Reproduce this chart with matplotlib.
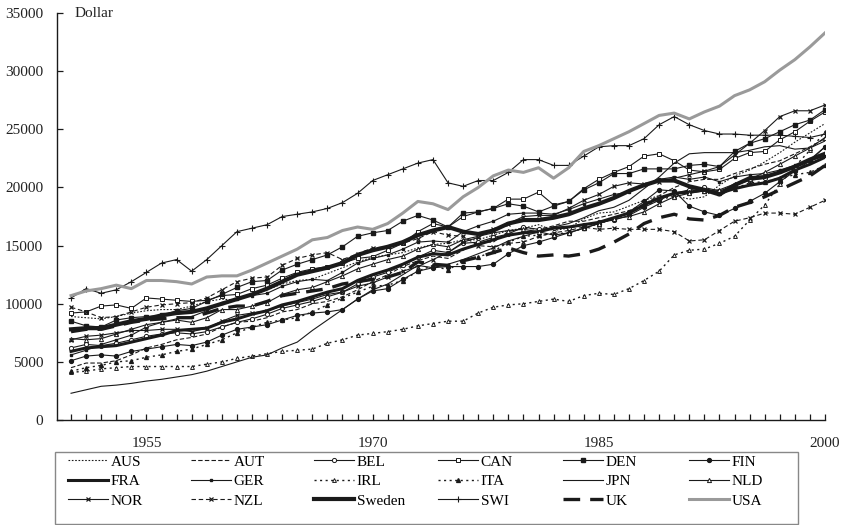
import numpy as np
from matplotlib import pyplot as plt
from matplotlib import rcParams
from matplotlib.patches import Rectangle

rcParams['font.family'] = ['Liberation Serif', 'DejaVu Serif']
rcParams['font.size'] = 11

years = list(range(1950, 2001))

AUS = [8900, 8800, 8700, 8900, 9200, 9400, 9500, 9500, 9800, 10200,
       10400, 10300, 10800, 11200, 11700, 12000, 12100, 12600, 13100, 13600,
       14000, 14200, 14400, 14800, 15100, 15200, 15500, 15500, 15900, 16300,
       16500, 16800, 16300, 16500, 17300, 17800, 17900, 18400, 18900, 19300,
       19300, 19000, 19200, 20200, 21000, 21500, 22200, 23000, 23900, 24700, 25500]
AUT = [4500, 4900, 4900, 5100, 5600, 6200, 6500, 6900, 7100, 7400,
       8000, 8400, 8500, 8800, 9300, 9500, 10000, 10200, 10600, 11200,
       11900, 12500, 13200, 13700, 14100, 13900, 14600, 15300, 15300, 16200,
       16500, 16400, 16700, 17100, 17100, 17400, 17700, 18000, 18600, 19300,
       20000, 20500, 20700, 20700, 21200, 21600, 22000, 22300, 22900, 23500, 24200]
BEL = [6200, 6500, 6400, 6600, 6900, 7200, 7400, 7500, 7400, 7600,
       8000, 8400, 8700, 9100, 9600, 9900, 10200, 10600, 11000, 11700,
       12300, 12700, 13300, 14000, 14600, 14400, 15200, 15300, 15700, 16000,
       16600, 16400, 16500, 16500, 16800, 17000, 17200, 17600, 18300, 18900,
       19500, 19800, 20000, 19700, 20200, 20600, 20800, 21400, 21800, 22400, 23500]
CAN = [9200, 9300, 9800, 9900, 9600, 10500, 10400, 10300, 10200, 10300,
       10700, 10800, 11300, 11600, 12200, 12700, 13000, 13200, 13500, 13900,
       14050, 14600, 15200, 16200, 16900, 16600, 17500, 17900, 18200, 19000,
       19000, 19600, 18500, 18800, 19900, 20700, 21300, 21800, 22700, 22900,
       22300, 21500, 21350, 21550, 22500, 23000, 23100, 24100, 24800, 25700, 26500]
DEN = [8500, 8100, 8000, 8600, 8800, 8900, 9000, 9400, 9600, 10200,
       10800, 11400, 11900, 12000, 12900, 13400, 13800, 14200, 14900, 15800,
       16100, 16300, 17100, 17600, 17200, 16600, 17800, 17900, 18200, 18600,
       18400, 17900, 18400, 18800, 19800, 20400, 21200, 21200, 21600, 21600,
       21600, 21900, 22000, 21800, 23100, 23800, 24200, 24800, 25400, 25800, 26700]
FIN = [5100, 5500, 5600, 5500, 5900, 6100, 6300, 6500, 6400, 6700,
       7300, 7800, 8000, 8200, 8600, 9000, 9200, 9300, 9500, 10400,
       11100, 11300, 12100, 12800, 13100, 13200, 13200, 13200, 13400, 14300,
       15000, 15300, 15700, 16100, 16500, 16900, 17300, 17900, 18800, 19800,
       19700, 18400, 17900, 17600, 18200, 18800, 19500, 20500, 21400, 22300, 23500]
FRA = [5900, 6200, 6300, 6400, 6700, 7000, 7300, 7700, 7800, 7900,
       8400, 8700, 9100, 9400, 9900, 10200, 10600, 11000, 11300, 12000,
       12500, 12900, 13400, 14000, 14300, 14200, 14700, 15100, 15500, 15900,
       16100, 16200, 16500, 16600, 16800, 17000, 17400, 17800, 18500, 19100,
       19500, 19600, 19800, 19500, 19900, 20200, 20400, 20800, 21500, 22000, 22600]
GER = [5600, 6000, 6500, 6900, 7300, 8000, 8400, 8700, 8900, 9400,
       10100, 10400, 10700, 10900, 11500, 11900, 12100, 12000, 12700, 13500,
       13900, 14200, 14700, 15300, 15400, 15300, 16200, 16700, 17100, 17700,
       17800, 17800, 17700, 18100, 18600, 19000, 19400, 19600, 20200, 20700,
       20900, 20700, 20900, 20500, 20900, 21100, 21200, 21500, 21900, 22300, 22700]
IRL = [4100, 4200, 4400, 4500, 4600, 4600, 4600, 4600, 4600, 4800,
       5000, 5300, 5500, 5700, 5900, 6000, 6100, 6600, 6900, 7300,
       7450, 7600, 7800, 8100, 8300, 8500, 8500, 9200, 9700, 9900,
       10000, 10200, 10400, 10200, 10700, 10900, 10800, 11300, 12000, 12800,
       14200, 14600, 14700, 15200, 15800, 17200, 18500, 20300, 21800, 23200, 24800]
ITA = [4200, 4500, 4700, 5000, 5100, 5400, 5600, 5900, 6100, 6500,
       6900, 7500, 8000, 8400, 8600, 8800, 9300, 9900, 10500, 11000,
       11500, 11600, 12000, 12800, 13300, 12900, 13700, 14000, 14500, 15300,
       15800, 15900, 16000, 16100, 16500, 16900, 17300, 17800, 18400, 18900,
       19300, 19600, 19700, 19500, 19900, 20400, 20500, 20800, 21100, 21300, 21900]
JPN = [2300, 2600, 2900, 3000, 3150, 3350, 3500, 3700, 3900, 4200,
       4600, 5000, 5400, 5600, 6200, 6700, 7700, 8600, 9500, 10400,
       11200, 11700, 12500, 13300, 13100, 13400, 13800, 14300, 14800, 15400,
       15800, 16200, 16600, 16900, 17400, 18000, 18300, 18900, 19900, 20900,
       22100, 22900, 23000, 23000, 23000, 23200, 23500, 23600, 23300, 23400, 24000]
NLD = [7000, 6900, 7000, 7400, 7800, 8200, 8400, 8600, 8400, 8800,
       9500, 9500, 9800, 10100, 10800, 11200, 11400, 11900, 12400, 13000,
       13400, 13800, 14100, 14700, 15100, 14900, 15500, 15800, 16100, 16300,
       16400, 16200, 15900, 16100, 16500, 16900, 17300, 17500, 17900, 18600,
       19200, 19500, 19700, 19800, 20300, 20700, 21300, 22000, 22700, 23400, 24300]
NOR = [6900, 7200, 7300, 7500, 7700, 7700, 7800, 7800, 7600, 7900,
       8500, 9000, 9200, 9400, 9800, 10100, 10400, 10800, 11000, 11500,
       11800, 12300, 12800, 13200, 13800, 14400, 15300, 15700, 16400, 16900,
       17500, 17600, 17600, 18200, 18900, 19400, 20100, 20400, 20300, 20500,
       20800, 21100, 21400, 21800, 22800, 23800, 24900, 26100, 26600, 26600, 27100]
NZL = [9700, 9300, 8800, 8900, 9300, 9700, 9900, 10000, 10100, 10500,
       11200, 11900, 12200, 12300, 13300, 13900, 14200, 14400, 13800, 14300,
       14800, 14900, 15200, 15600, 16200, 15900, 15800, 15000, 14900, 15200,
       15300, 15800, 16100, 16300, 16600, 16400, 16500, 16400, 16400, 16400,
       16200, 15400, 15500, 16300, 17100, 17400, 17800, 17800, 17700, 18300, 18900]
SWE = [7800, 7900, 7900, 8200, 8500, 8700, 9000, 9200, 9300, 9600,
       10000, 10400, 10800, 11300, 11900, 12500, 12800, 13100, 13500, 14200,
       14600, 14900, 15300, 15900, 16300, 16600, 16200, 16000, 16300, 16900,
       17200, 17200, 17400, 17700, 18200, 18600, 19100, 19700, 20200, 20600,
       20600, 20100, 19800, 19400, 20200, 20800, 20900, 21300, 21800, 22400, 22900]
SWI = [10500, 11300, 10900, 11200, 11900, 12700, 13500, 13800, 12800, 13800,
       15000, 16200, 16500, 16800, 17500, 17700, 17900, 18200, 18700, 19500,
       20600, 21100, 21600, 22100, 22400, 20400, 20100, 20600, 20600, 21300,
       22400, 22400, 21900, 21900, 22700, 23500, 23600, 23600, 24200, 25400,
       26100, 25400, 24900, 24600, 24600, 24500, 24500, 24500, 24400, 24300, 24600]
UK = [7600, 7800, 7800, 8100, 8400, 8600, 8700, 8800, 8800, 9200,
      9600, 9800, 9800, 10200, 10700, 10900, 11100, 11300, 11700, 11900,
      12100, 12300, 12700, 13600, 13400, 13300, 13700, 14000, 14400, 14800,
      14400, 14100, 14200, 14100, 14300, 14700, 15300, 16000, 16900, 17400,
      17700, 17300, 17200, 17600, 18300, 18700, 19200, 19800, 20400, 21000, 21900]
USA = [10700, 11100, 11300, 11600, 11300, 12000, 12000, 11900, 11700, 12300,
       12400, 12400, 12900, 13500, 14100, 14700, 15500, 15700, 16300, 16600,
       16400, 16900, 17800, 18800, 18600, 18100, 19200, 20000, 21000, 21500,
       21300, 21700, 20800, 21700, 23100, 23600, 24200, 24800, 25500, 26200,
       26400, 25900, 26500, 27000, 27900, 28400, 29100, 30100, 31000, 32100, 33300]

labels = ['AUS', 'AUT', 'BEL', 'CAN', 'DEN', 'FIN',
          'FRA', 'GER', 'IRL', 'ITA', 'JPN', 'NLD',
          'NOR', 'NZL', 'Sweden', 'SWI', 'UK', 'USA']
series = [AUS, AUT, BEL, CAN, DEN, FIN, FRA, GER, IRL, ITA, JPN, NLD,
          NOR, NZL, SWE, SWI, UK, USA]

k = '#1a1a1a'
thin = 0.8
styles = {
    'AUS': dict(ls=(0, (1.5, 1.5)), lw=thin),
    'AUT': dict(ls=(0, (4, 2)), lw=thin),
    'BEL': dict(ls='-', lw=thin, marker='o', ms=3, mfc='white', mew=0.7),
    'CAN': dict(ls='-', lw=thin, marker='s', ms=3.2, mfc='white', mew=0.7),
    'DEN': dict(ls='-', lw=thin, marker='s', ms=3.2),
    'FIN': dict(ls='-', lw=thin, marker='o', ms=2.8),
    'FRA': dict(ls='-', lw=2.2),
    'GER': dict(ls='-', lw=thin, marker='s', ms=2),
    'IRL': dict(ls=(0, (1.5, 2.5)), lw=1.0, marker='^', ms=2.8, mfc='white', mew=0.7),
    'ITA': dict(ls=(0, (1.5, 2.5)), lw=1.0, marker='^', ms=2.8),
    'JPN': dict(ls='-', lw=thin),
    'NLD': dict(ls='-', lw=thin, marker='^', ms=3, mfc='white', mew=0.7),
    'NOR': dict(ls='-', lw=thin, marker='x', ms=3.2, mew=0.9),
    'NZL': dict(ls=(0, (4, 2.5)), lw=thin, marker='x', ms=3.2, mew=0.9),
    'Sweden': dict(ls='-', lw=3.0),
    'SWI': dict(ls='-', lw=thin, marker='+', ms=4.5, mew=0.8),
    'UK': dict(ls=(0, (5, 3)), lw=2.4),
    'USA': dict(ls='-', lw=2.2),
}

W, H = 846, 525
fig = plt.figure(figsize=(W / 100, H / 100), dpi=100)
ax = fig.add_axes([0.0674, 0.2, 0.9078, 0.775])

handles = []
for lab, vals in zip(labels, series):
    st = dict(styles[lab])
    col = '#9a9a9a' if lab == 'USA' else k
    st.setdefault('mfc', col)
    h, = ax.plot(years, vals, color=col, mec=col, label=lab, **st)
    handles.append(h)

ax.set_xlim(1949.07, 2000)
ax.set_ylim(0, 35000)
ax.set_yticks(range(0, 35001, 5000))
ax.set_xticks(years)
ax.set_xticklabels([str(y) if y in (1955, 1970, 1985, 2000) else '' for y in years])
ax.tick_params(axis='both', direction='in', length=4, width=0.9, color=k, labelcolor='#222222')
ax.tick_params(axis='y', pad=10)
ax.tick_params(axis='x', pad=12)
for s in ['top', 'right']:
    ax.spines[s].set_visible(False)
for s in ['left', 'bottom']:
    ax.spines[s].set_linewidth(1.0)
    ax.spines[s].set_color(k)

ax.text(1950.2, 35000, 'Dollar', va='center', ha='left', color='#222222')

# legend frame, then one small legend per column so columns are evenly spaced
fig.patches.append(Rectangle((55 / W, 1 - 524 / H), 743 / W, 72 / H,
                             transform=fig.transFigure, fill=True, fc='white',
                             ec='#888888', lw=1.0, zorder=3))
col_x = [68, 191, 314, 438, 563, 689]
for c in range(6):
    idx = [r * 6 + c for r in range(3)]
    leg = fig.legend([handles[i] for i in idx], [labels[i] for i in idx],
                     loc='upper left', bbox_to_anchor=(col_x[c] / W, 1 - 455 / H),
                     frameon=False, handlelength=2.6, handletextpad=0.2,
                     labelspacing=0.38, borderpad=0, borderaxespad=0)
    leg.set_zorder(4)

fig.savefig('out.png', dpi=100)
